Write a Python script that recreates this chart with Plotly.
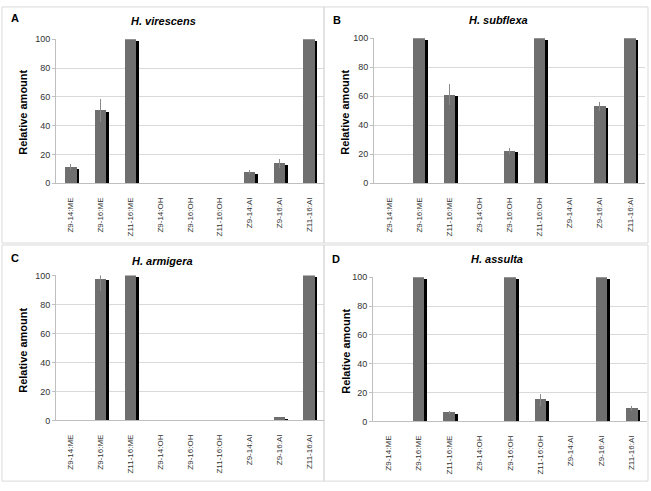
import plotly.graph_objects as go

categories = ["Z9-14:ME", "Z9-16:ME", "Z11-16:ME", "Z9-14:OH", "Z9-16:OH",
              "Z11-16:OH", "Z9-14:AI", "Z9-16:AI", "Z11-16:AI"]

virescens = [11.2, 50.5, 100, 0, 0, 0, 7.8, 13.8, 100]
virescens_err = [2.2, 7.8, 0, 0, 0, 0, 1.5, 3.2, 0]

subflexa = [0, 100, 61, 0, 22.3, 100, 0, 53, 100]
subflexa_err = [0, 0, 7.2, 0, 2.0, 0, 0, 3.0, 0]

armigera = [0, 97.5, 100, 0, 0, 0, 0, 1.8, 100]
armigera_err = [0, 8.0, 0, 0, 0, 0, 0, 0, 0]

assulta = [0, 100, 6.0, 0, 100, 15.0, 0, 100, 9.0]
assulta_err = [0, 0, 1.2, 0, 0, 4.0, 0, 0, 2.0]

titles = ["H. virescens", "H. subflexa", "H. armigera", "H. assulta"]
letters = ["A", "B", "C", "D"]
y_label = "Relative amount"
y_ticks = [0, 20, 40, 60, 80, 100]

W, H = 651, 491
FONT = "Liberation Sans, Arial, sans-serif"

panels = [
    dict(vals=virescens, err=virescens_err, x=(56, 324), y=(35, 182),
         title=(163, 16), letter=(9, 13), ytitle=(23, 110)),
    dict(vals=subflexa, err=subflexa_err, x=(374, 645), y=(34, 182),
         title=(498, 15), letter=(331, 15), ytitle=(345, 110)),
    dict(vals=armigera, err=armigera_err, x=(56, 324), y=(276, 424),
         title=(162, 261), letter=(9, 258), ytitle=(23, 353)),
    dict(vals=assulta, err=assulta_err, x=(373, 647), y=(278, 425),
         title=(497, 259), letter=(330, 259), ytitle=(346, 353)),
]

fig = go.Figure()
annotations = []
shapes = []

def px(x):
    return x / W

def py(y):
    return 1 - y / H

for i, p in enumerate(panels):
    n = "" if i == 0 else str(i + 1)
    xa, ya = "x" + n, "y" + n
    shadow = [max(v - 1.2, 0) for v in p["vals"]]
    fig.add_trace(go.Bar(x=categories, y=shadow, xaxis=xa, yaxis=ya,
                         marker=dict(color="#000000", line=dict(width=0)),
                         width=0.38, offset=-0.10, showlegend=False,
                         hoverinfo="skip"))
    fig.add_trace(go.Bar(x=categories, y=p["vals"], xaxis=xa, yaxis=ya,
                         marker=dict(color="#6f6f6f", line=dict(width=0)),
                         width=0.38, offset=-0.19, showlegend=False,
                         error_y=dict(type="data", array=p["err"], visible=True,
                                      color="#8a8a8a", thickness=1, width=0)))
    fig.layout["xaxis" + n] = dict(
        domain=[px(p["x"][0]), px(p["x"][1])], anchor=ya,
        type="category", categoryorder="array", categoryarray=categories,
        tickangle=-90, tickfont=dict(family=FONT, size=8, color="#333333"),
        showline=True, linecolor="#bfbfbf", linewidth=1, showgrid=False,
        ticks="", ticklabelstandoff=10, fixedrange=True)
    fig.layout["yaxis" + n] = dict(
        domain=[py(p["y"][1]), py(p["y"][0])], anchor=xa,
        range=[0, 100], tickvals=y_ticks,
        tickfont=dict(family=FONT, size=9, color="#333333"),
        showline=True, linecolor="#bfbfbf", linewidth=1,
        showgrid=True, gridcolor="#d9d9d9", gridwidth=1,
        ticks="outside", ticklen=3, tickcolor="#bfbfbf",
        zeroline=False, fixedrange=True)
    annotations.append(dict(text="<b><i>" + titles[i] + "</i></b>",
                            x=px(p["title"][0]), y=py(p["title"][1]),
                            xref="paper", yref="paper", showarrow=False,
                            xanchor="center", yanchor="middle",
                            font=dict(family=FONT, size=11, color="#000000")))
    annotations.append(dict(text="<b>" + letters[i] + "</b>",
                            x=px(p["letter"][0]), y=py(p["letter"][1]),
                            xref="paper", yref="paper", showarrow=False,
                            xanchor="left", yanchor="middle",
                            font=dict(family=FONT, size=11, color="#000000")))
    annotations.append(dict(text="<b>" + y_label + "</b>",
                            x=px(p["ytitle"][0]), y=py(p["ytitle"][1]),
                            xref="paper", yref="paper", showarrow=False,
                            textangle=-90, xanchor="center", yanchor="middle",
                            font=dict(family=FONT, size=11, color="#000000")))

boxes = [(2, 2, 324, 243), (324, 2, 648, 243), (2, 245, 324, 486), (324, 245, 648, 486)]
for (x0, y0, x1, y1) in boxes:
    shapes.append(dict(type="rect", xref="paper", yref="paper",
                       x0=px(x0), x1=px(x1), y0=py(y1), y1=py(y0),
                       line=dict(color="#d9d9d9", width=1), layer="below"))

fig.update_layout(width=W, height=H, margin=dict(l=0, r=0, t=0, b=0),
                  paper_bgcolor="white", plot_bgcolor="white",
                  barmode="overlay", bargap=0,
                  annotations=annotations, shapes=shapes,
                  font=dict(family=FONT))

fig.write_html("out.html",
               config={"displayModeBar": False},
               post_script="document.body.style.margin='0';"
                           "document.body.style.padding='0';"
                           "document.documentElement.style.overflow='hidden';")
